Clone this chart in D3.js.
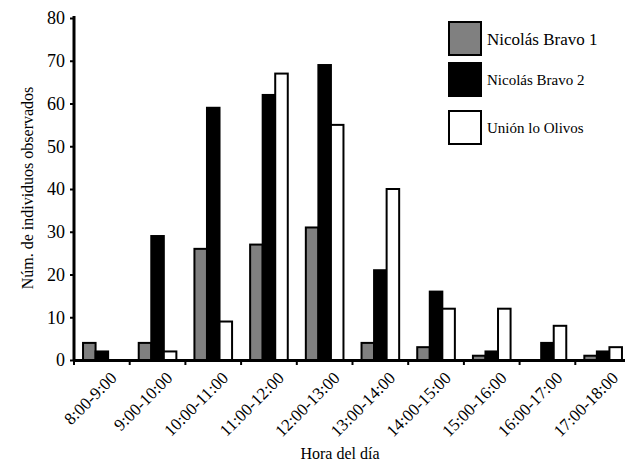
<!DOCTYPE html>
<html>
<head>
<meta charset="utf-8">
<script src="https://cdn.jsdelivr.net/npm/d3@7"></script>
<style>
	body{margin:0;background:#fff;}
	text{font-family:"Liberation Serif","Times New Roman","DejaVu Serif",serif;fill:#000;}
</style>
</head>
<body>
<div id="chart"></div>
<script>
//datos
const horas = ["8:00-9:00","9:00-10:00","10:00-11:00","11:00-12:00","12:00-13:00","13:00-14:00","14:00-15:00","15:00-16:00","16:00-17:00","17:00-18:00"];
const series = ["Nicolás Bravo 1","Nicolás Bravo 2","Unión lo Olivos"];
const bravo1 = [4,4,26,27,31,4,3,1,0,1];
const bravo2 = [2,29,59,62,69,21,16,2,4,2];
const olivos = [0,2,9,67,55,40,12,12,8,3];
const yTicks = [0,10,20,30,40,50,60,70,80];
const colores = ["#808080","#000000","#ffffff"];

const width = 625, height = 466;
const margin = {left:74, top:18, right:-6, bottom:106};

let svg = d3.select("#chart").append("svg")
	.attr("width",width)
	.attr("height",height);

let x = d3.scaleBand()
	.domain(horas)
	.range([margin.left, width - margin.right])
	.paddingInner(0)
	.paddingOuter(0);

//barras dentro de cada hora
let xs = d3.scaleBand()
	.domain(series)
	.range([0, x.bandwidth()])
	.paddingInner(0)
	.paddingOuter(0.72);

let y = d3.scaleLinear()
	.domain([0,80])
	.range([height - margin.bottom, margin.top]);

let datos = horas.map(function(h,i){
	return {hora:h, vals:[bravo1[i],bravo2[i],olivos[i]]};
});

//barras
let g = svg.append("g");
g.selectAll(".grupo")
	.data(datos)
	.enter().append("g")
	.attr("transform",function(d){return "translate("+x(d.hora)+",0)";})
	.each(function(d){
		d3.select(this).selectAll("rect")
			.data(d.vals)
			.enter().append("rect")
			.attr("x",function(v,i){return xs(series[i]);})
			.attr("y",function(v){return y(v);})
			.attr("width",xs.bandwidth())
			.attr("height",function(v){return y(0)-y(v);})
			.attr("fill",function(v,i){return colores[i];})
			.attr("stroke","#000")
			.attr("stroke-width",2);
	});

//eje y
let yAxis = svg.append("g")
	.attr("transform","translate("+margin.left+",0)")
	.call(d3.axisLeft(y).tickValues(yTicks).tickSize(4).tickPadding(5));
yAxis.select(".domain").attr("stroke-width",3).attr("d","M0,"+(margin.top-2)+"V"+y(0));
yAxis.selectAll("line").attr("stroke-width",2);
yAxis.selectAll("text").style("font-size","18px");

//eje x
let xAxis = svg.append("g")
	.attr("transform","translate(0,"+y(0)+")")
	.call(d3.axisBottom(x).tickSize(0).tickFormat(""));
xAxis.select(".domain").attr("stroke-width",3);
svg.append("g").selectAll("line")
	.data(horas)
	.enter().append("line")
	.attr("x1",function(d){return x(d);})
	.attr("x2",function(d){return x(d);})
	.attr("y1",y(0))
	.attr("y2",y(0)+5)
	.attr("stroke","#000")
	.attr("stroke-width",2);

svg.append("g").selectAll("text")
	.data(horas)
	.enter().append("text")
	.attr("transform",function(d){return "translate("+(x(d)+x.bandwidth()/2+16)+","+(y(0)+19)+") rotate(-45)";})
	.attr("text-anchor","end")
	.style("font-size","17px")
	.text(function(d){return d;});

//titulos
svg.append("text")
	.attr("x",340)
	.attr("y",459)
	.attr("text-anchor","middle")
	.style("font-size","16px")
	.text("Hora del día");

svg.append("text")
	.attr("transform","translate(33,188) rotate(-90)")
	.attr("text-anchor","middle")
	.style("font-size","16px")
	.text("Núm. de individuos observados");

//leyenda
const leyY = [22,63,111];
const leyFont = [17,15,15];
let ley = svg.append("g");
series.forEach(function(s,i){
	ley.append("rect")
		.attr("x",449)
		.attr("y",leyY[i])
		.attr("width",32)
		.attr("height",33)
		.attr("fill",colores[i])
		.attr("stroke","#000")
		.attr("stroke-width",2);
	ley.append("text")
		.attr("x",487)
		.attr("y",leyY[i]+17)
		.attr("dy","0.35em")
		.style("font-size",leyFont[i]+"px")
		.text(s);
});
</script>
</body>
</html>
